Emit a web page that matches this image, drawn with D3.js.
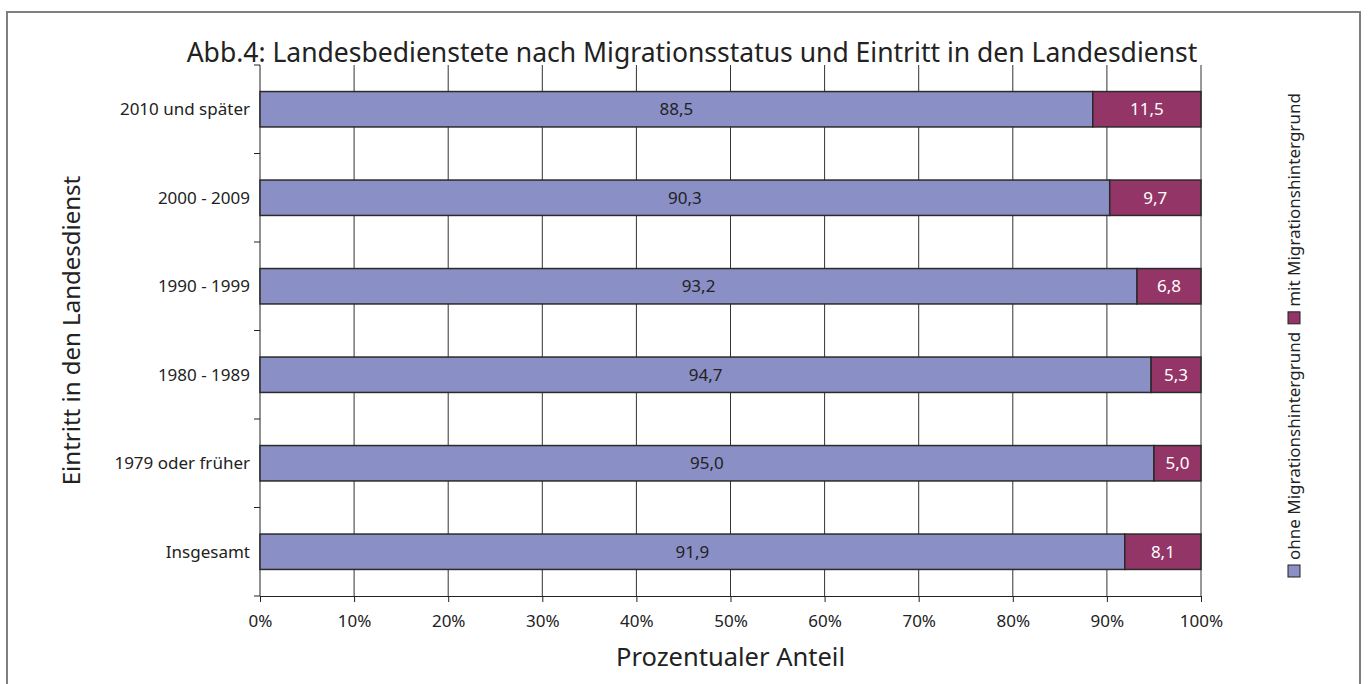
<!DOCTYPE html>
<html>
<head>
<meta charset="utf-8">
<script src="https://cdn.jsdelivr.net/npm/d3@7"></script>
<style>
  body { margin: 0; background: #fff; }
  text { font-family: "Noto Sans", "Open Sans", sans-serif; fill: #222; }
</style>
</head>
<body>
<div id="chart"></div>
<script>
const categories = ["2010 und später", "2000 - 2009", "1990 - 1999", "1980 - 1989", "1979 oder früher", "Insgesamt"];
const ohne = [88.5, 90.3, 93.2, 94.7, 95.0, 91.9];
const mit = [11.5, 9.7, 6.8, 5.3, 5.0, 8.1];
const xTicks = [0, 10, 20, 30, 40, 50, 60, 70, 80, 90, 100];
const seriesNames = ["ohne Migrationshintergrund", "mit Migrationshintergrund"];

const width = 1371;
const height = 684;
const plot = { left: 260, right: 1201, top: 65, bottom: 596 };

const svg = d3.select("#chart")
  .append("svg")
  .attr("width", width)
  .attr("height", height);

// outer frame
svg.append("rect")
  .attr("x", 7)
  .attr("y", 12)
  .attr("width", 1353)
  .attr("height", 700)
  .attr("fill", "none")
  .attr("stroke", "#7f7f7f")
  .attr("stroke-width", 2);

const x = d3.scaleLinear()
  .domain([0, 100])
  .range([plot.left, plot.right]);

const y = d3.scaleBand()
  .domain(categories)
  .range([plot.top, plot.bottom])
  .paddingInner(0.6)
  .paddingOuter(0.3);

const color = d3.scaleOrdinal()
  .domain(seriesNames)
  .range(["#8a8fc6", "#943567"]);

// vertical gridlines
svg.append("g")
  .selectAll("line")
  .data(xTicks.slice(1))
  .enter()
  .append("line")
  .attr("x1", d => x(d))
  .attr("x2", d => x(d))
  .attr("y1", plot.top)
  .attr("y2", plot.bottom)
  .attr("stroke", "#333")
  .attr("stroke-width", 1);

// x axis
const xAxis = svg.append("g")
  .attr("transform", `translate(0,${plot.bottom})`)
  .call(d3.axisBottom(x).tickValues(xTicks).tickFormat(d => d + "%").tickSize(6).tickPadding(13));
xAxis.select(".domain").attr("stroke", "#222");
xAxis.selectAll(".tick line").attr("stroke", "#222");
xAxis.selectAll("text")
  .style("font-size", "17px")
  .attr("fill", "#333");

// y axis: ticks between categories
const yTickPos = d3.range(categories.length + 1).map(i => plot.top + i * (plot.bottom - plot.top) / categories.length);
svg.append("line")
  .attr("x1", plot.left).attr("x2", plot.left)
  .attr("y1", plot.top).attr("y2", plot.bottom)
  .attr("stroke", "#222");
svg.append("g")
  .selectAll("line")
  .data(yTickPos)
  .enter()
  .append("line")
  .attr("x1", plot.left - 6)
  .attr("x2", plot.left)
  .attr("y1", d => d)
  .attr("y2", d => d)
  .attr("stroke", "#222");

svg.append("g")
  .selectAll("text")
  .data(categories)
  .enter()
  .append("text")
  .attr("x", plot.left - 10)
  .attr("y", d => y(d) + y.bandwidth() / 2)
  .attr("dy", "0.35em")
  .attr("text-anchor", "end")
  .style("font-size", "17px")
  .attr("fill", "#333")
  .text(d => d);

// bars
const rows = categories.map((c, i) => ({ cat: c, ohne: ohne[i], mit: mit[i] }));

const barGroups = svg.append("g")
  .selectAll("g")
  .data(rows)
  .enter()
  .append("g");

barGroups.append("rect")
  .attr("x", x(0))
  .attr("y", d => y(d.cat))
  .attr("width", d => x(d.ohne) - x(0))
  .attr("height", y.bandwidth())
  .attr("fill", color(seriesNames[0]))
  .attr("stroke", "#2a2a2a")
  .attr("stroke-width", 1.5);

barGroups.append("rect")
  .attr("x", d => x(d.ohne))
  .attr("y", d => y(d.cat))
  .attr("width", d => x(d.ohne + d.mit) - x(d.ohne))
  .attr("height", y.bandwidth())
  .attr("fill", color(seriesNames[1]))
  .attr("stroke", "#2a2a2a")
  .attr("stroke-width", 1.5);

const fmt = v => v.toFixed(1).replace(".", ",");

barGroups.append("text")
  .attr("x", d => x(d.ohne / 2))
  .attr("y", d => y(d.cat) + y.bandwidth() / 2)
  .attr("dy", "0.35em")
  .attr("text-anchor", "middle")
  .style("font-size", "17px")
  .style("fill", "#222")
  .text(d => fmt(d.ohne));

barGroups.append("text")
  .attr("x", d => x(d.ohne + d.mit / 2))
  .attr("y", d => y(d.cat) + y.bandwidth() / 2)
  .attr("dy", "0.35em")
  .attr("text-anchor", "middle")
  .style("font-size", "17px")
  .style("fill", "#fff")
  .text(d => fmt(d.mit));

// title
svg.append("text")
  .attr("x", 692)
  .attr("y", 62)
  .attr("text-anchor", "middle")
  .style("font-size", "26.5px")
  .text("Abb.4: Landesbedienstete nach Migrationsstatus und Eintritt in den Landesdienst");

// axis titles
svg.append("text")
  .attr("transform", `translate(80,${(plot.top + plot.bottom) / 2}) rotate(-90)`)
  .attr("text-anchor", "middle")
  .style("font-size", "24px")
  .text("Eintritt in den Landesdienst");

svg.append("text")
  .attr("x", (plot.left + plot.right) / 2)
  .attr("y", 666)
  .attr("text-anchor", "middle")
  .style("font-size", "25.5px")
  .text("Prozentualer Anteil");

// legend (rotated)
const legend = svg.append("g")
  .attr("transform", "translate(1294,577) rotate(-90)");

let offset = 0;
seriesNames.forEach((name, i) => {
  const g = legend.append("g").attr("transform", `translate(${offset},0)`);
  g.append("rect")
    .attr("x", 0)
    .attr("y", -6)
    .attr("width", 12)
    .attr("height", 12)
    .attr("fill", color(name))
    .attr("stroke", "#222")
    .attr("stroke-width", 1);
  const t = g.append("text")
    .attr("x", 17)
    .attr("y", 0)
    .attr("dy", "0.35em")
    .style("font-size", "17px")
    .attr("fill", "#333")
    .text(name);
  offset += 17 + t.node().getComputedTextLength() + 8;
});
</script>
</body>
</html>
